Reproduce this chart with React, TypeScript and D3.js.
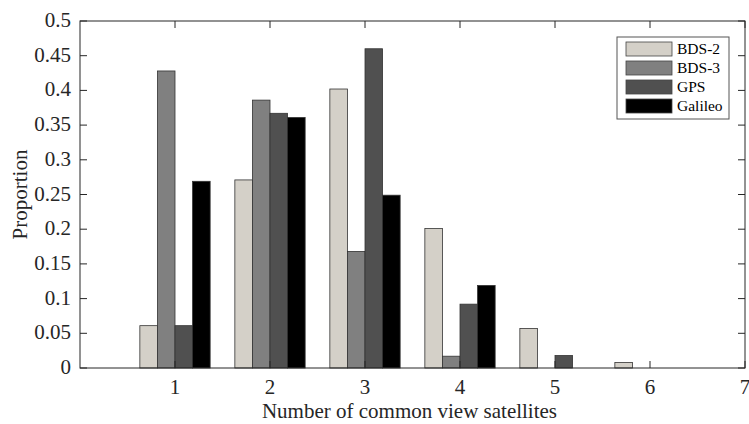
import React, { useRef, useEffect } from "react";
import * as d3 from "d3";

const categories = [1, 2, 3, 4, 5, 6, 7];
const seriesNames = ["BDS-2", "BDS-3", "GPS", "Galileo"];
const bds2 = [0.061, 0.271, 0.402, 0.201, 0.057, 0.008, 0];
const bds3 = [0.428, 0.386, 0.168, 0.017, 0, 0, 0];
const gps = [0.061, 0.367, 0.46, 0.092, 0.018, 0, 0];
const galileo = [0.269, 0.361, 0.249, 0.119, 0, 0, 0];
const colors = ["#d4d0c8", "#808080", "#505050", "#000000"];
const yTicks = [0, 0.05, 0.1, 0.15, 0.2, 0.25, 0.3, 0.35, 0.4, 0.45, 0.5];

const W = 749;
const H = 424;
const margin = { top: 21, right: 4, bottom: 56, left: 80 };
const ink = "#262626";
const font = "'Liberation Serif', 'Times New Roman', serif";

const App = () => {
  const svgRef = useRef<SVGSVGElement>(null);

  useEffect(() => {
    const svg = d3.select(svgRef.current);
    svg.selectAll("*").remove();

    const x = d3.scaleLinear().domain([0, 7]).range([margin.left, W - margin.right]);
    const y = d3.scaleLinear().domain([0, 0.5]).range([H - margin.bottom, margin.top]);

    const series = [bds2, bds3, gps, galileo];
    const groupWidth = 0.74;
    const barWidth = groupWidth / series.length;

    // bars
    series.forEach((vals, si) => {
      svg
        .append("g")
        .selectAll("rect")
        .data(categories)
        .enter()
        .append("rect")
        .attr("x", (c) => x(c - groupWidth / 2 + si * barWidth))
        .attr("width", x(barWidth) - x(0))
        .attr("y", (c, i) => y(vals[i]))
        .attr("height", (c, i) => y(0) - y(vals[i]))
        .attr("fill", colors[si])
        .attr("stroke", "#333")
        .attr("stroke-width", 0.8);
    });

    const x0 = margin.left;
    const x1 = W - margin.right;
    const y0 = H - margin.bottom;
    const y1 = margin.top;
    const tickLen = 7;

    // box
    svg
      .append("rect")
      .attr("x", x0)
      .attr("y", y1)
      .attr("width", x1 - x0)
      .attr("height", y0 - y1)
      .attr("fill", "none")
      .attr("stroke", ink)
      .attr("stroke-width", 1);

    // x ticks (bottom and top)
    const xt = svg.append("g");
    categories.forEach((c) => {
      xt.append("line")
        .attr("x1", x(c)).attr("x2", x(c))
        .attr("y1", y0).attr("y2", y0 - tickLen)
        .attr("stroke", ink);
      xt.append("line")
        .attr("x1", x(c)).attr("x2", x(c))
        .attr("y1", y1).attr("y2", y1 + tickLen)
        .attr("stroke", ink);
      xt.append("text")
        .attr("x", x(c))
        .attr("y", y0 + 26)
        .attr("text-anchor", "middle")
        .attr("font-family", font)
        .attr("font-size", 21)
        .attr("fill", ink)
        .text(c);
    });

    // y ticks (left and right)
    const yt = svg.append("g");
    yTicks.forEach((t) => {
      yt.append("line")
        .attr("x1", x0).attr("x2", x0 + tickLen)
        .attr("y1", y(t)).attr("y2", y(t))
        .attr("stroke", ink);
      yt.append("line")
        .attr("x1", x1).attr("x2", x1 - tickLen)
        .attr("y1", y(t)).attr("y2", y(t))
        .attr("stroke", ink);
      yt.append("text")
        .attr("x", x0 - 9)
        .attr("y", y(t) + 6)
        .attr("text-anchor", "end")
        .attr("font-family", font)
        .attr("font-size", 21)
        .attr("fill", ink)
        .text(String(t));
    });

    // axis labels
    svg
      .append("text")
      .attr("x", (x0 + x1) / 2 - 3)
      .attr("y", y0 + 50)
      .attr("text-anchor", "middle")
      .attr("font-family", font)
      .attr("font-size", 21)
      .attr("fill", ink)
      .text("Number of common view satellites");

    svg
      .append("text")
      .attr("transform", `translate(27,${(y0 + y1) / 2}) rotate(-90)`)
      .attr("text-anchor", "middle")
      .attr("font-family", font)
      .attr("font-size", 21)
      .attr("fill", ink)
      .text("Proportion");

    // legend
    const lg = svg.append("g").attr("transform", "translate(617,37)");
    lg.append("rect")
      .attr("width", 112)
      .attr("height", 82)
      .attr("fill", "#fff")
      .attr("stroke", "#555")
      .attr("stroke-width", 1);
    seriesNames.forEach((name, i) => {
      lg.append("rect")
        .attr("x", 9)
        .attr("y", 5 + i * 19)
        .attr("width", 46)
        .attr("height", 14)
        .attr("fill", colors[i])
        .attr("stroke", "#444")
        .attr("stroke-width", 0.8);
      lg.append("text")
        .attr("x", 60)
        .attr("y", 17 + i * 19)
        .attr("font-family", font)
        .attr("font-size", 15.5)
        .attr("fill", "#000")
        .text(name);
    });
  }, []);

  return (
    <svg
      ref={svgRef}
      width={W}
      height={H}
      style={{ position: "absolute", left: 0, top: 0, background: "#fff" }}
    />
  );
};

export default App;
